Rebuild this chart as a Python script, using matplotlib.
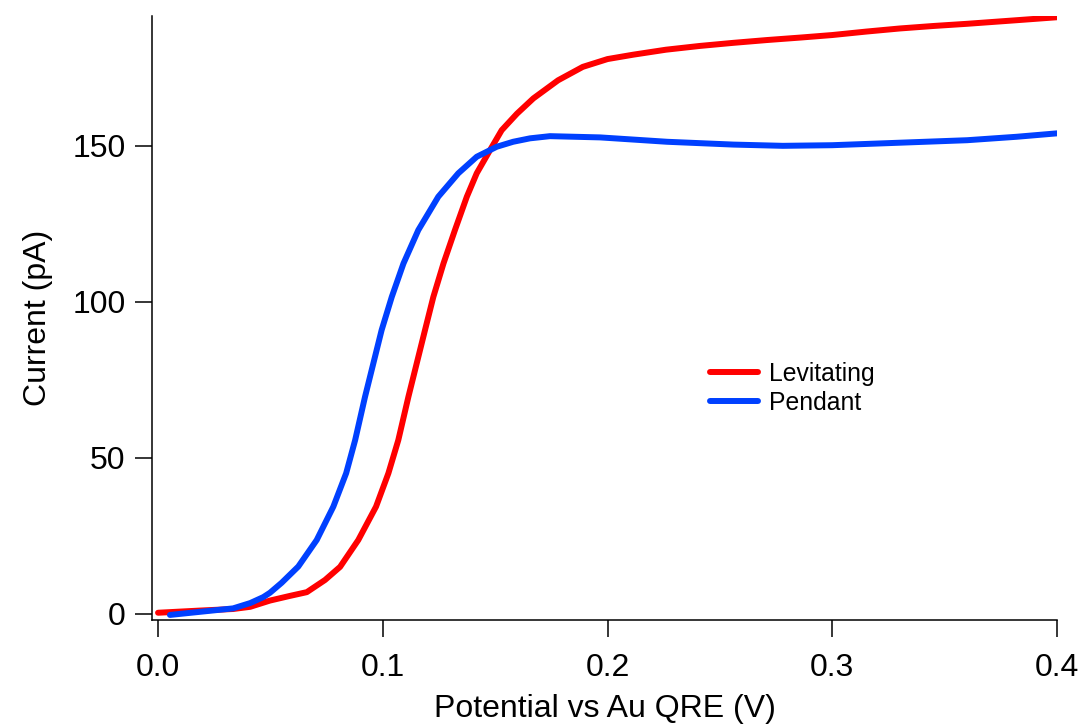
import matplotlib
matplotlib.use("Agg")
import matplotlib.pyplot as plt

# Levitating drop voltammogram
lev_x = [0.000, 0.0187, 0.0334, 0.041, 0.0498, 0.0587, 0.0662, 0.0743, 0.081,
         0.0891, 0.097, 0.1025, 0.1069, 0.1114, 0.1188, 0.1225, 0.127, 0.1321,
         0.1374, 0.1418, 0.1477, 0.1529, 0.1597, 0.167, 0.178, 0.189, 0.200,
         0.2114, 0.226, 0.241, 0.256, 0.271, 0.286, 0.300, 0.315, 0.330,
         0.345, 0.360, 0.383, 0.400]
lev_y = [0.4, 1.1, 1.6, 2.3, 4.3, 5.8, 7.0, 10.9, 15.1,
         23.7, 34.4, 45.1, 55.7, 69.6, 91.0, 101.6, 112.3, 123.0,
         133.7, 141.2, 148.6, 155.0, 160.3, 165.2, 171.0, 175.3, 177.8,
         179.2, 180.8, 182.0, 183.0, 183.9, 184.7, 185.5, 186.6, 187.6,
         188.4, 189.1, 190.3, 191.2]

# Pendant drop voltammogram
pen_x = [0.0053, 0.0187, 0.0334, 0.041, 0.0468, 0.0498, 0.055, 0.0624, 0.0706,
         0.078, 0.0837, 0.0877, 0.0921, 0.0995, 0.104, 0.1092, 0.1158, 0.1247,
         0.1336, 0.1418, 0.1507, 0.158, 0.1655, 0.1744, 0.1967, 0.2265, 0.256,
         0.278, 0.300, 0.330, 0.360, 0.382, 0.400]
pen_y = [-0.3, 0.7, 1.8, 3.5, 5.4, 6.8, 10.0, 15.2, 23.7,
         34.4, 45.1, 55.7, 69.6, 91.0, 101.6, 112.3, 123.0, 133.7,
         141.2, 146.5, 149.7, 151.3, 152.4, 153.1, 152.7, 151.3, 150.4,
         150.0, 150.2, 151.0, 151.8, 152.9, 154.0]

x_ticks = [0.0, 0.1, 0.2, 0.3, 0.4]
x_tick_labels = ["0.0", "0.1", "0.2", "0.3", "0.4"]
y_ticks = [0, 50, 100, 150]

RED = "#ff0000"
BLUE = "#0040ff"

plt.rcParams["font.family"] = ["Liberation Sans", "DejaVu Sans"]

fig = plt.figure(figsize=(10.84, 7.27), dpi=100)
ax = fig.add_axes([0.1402, 0.1472, 0.8349, 0.8308])

ax.plot(lev_x, lev_y, color=RED, lw=4.3, solid_capstyle="round",
        solid_joinstyle="round", label="Levitating")
ax.plot(pen_x, pen_y, color=BLUE, lw=4.3, solid_capstyle="round",
        solid_joinstyle="round", label="Pendant")

ax.set_xlim(-0.0027, 0.4)
ax.set_ylim(-1.92, 191.6)
ax.set_xticks(x_ticks)
ax.set_xticklabels(x_tick_labels)
ax.set_yticks(y_ticks)

for side in ("top", "right"):
    ax.spines[side].set_visible(False)
for side in ("left", "bottom"):
    ax.spines[side].set_linewidth(1.1)

ax.tick_params(axis="both", direction="out", length=12, width=1.1, labelsize=23)
ax.tick_params(axis="x", pad=12)
ax.tick_params(axis="y", pad=7)

ax.set_xlabel("Potential vs Au QRE (V)", fontsize=23, labelpad=8)
ax.set_ylabel("Current (pA)", fontsize=23, labelpad=14)

ax.legend(loc="upper left", bbox_to_anchor=(710 / 1084, 1 - 362 / 727),
          bbox_transform=fig.transFigure, frameon=False, fontsize=17.8,
          handlelength=1.95, handletextpad=0.45, labelspacing=0.2,
          borderpad=0, borderaxespad=0)

fig.savefig("out.png", dpi=100)
